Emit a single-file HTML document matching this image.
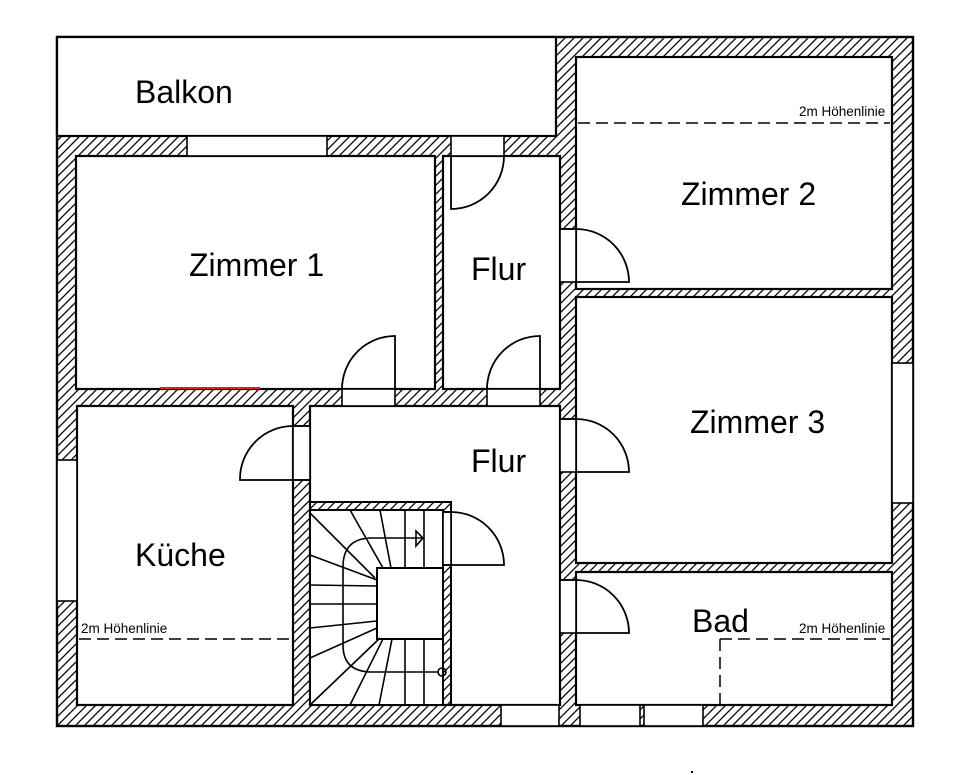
<!DOCTYPE html>
<html><head><meta charset="utf-8"><style>html,body{margin:0;padding:0;background:#fff}svg{display:block}</style></head>
<body>
<svg width="960" height="775" viewBox="0 0 960 775" xmlns="http://www.w3.org/2000/svg" font-family="Liberation Sans, Arial, sans-serif">
<defs>
<pattern id="h" patternUnits="userSpaceOnUse" width="9" height="9">
<path d="M-2,2 L2,-2 M0,9 L9,0 M7,11 L11,7" stroke="#000" stroke-width="1.3"/>
</pattern>
</defs>
<rect width="960" height="775" fill="#fff"/>
<rect x="57" y="37" width="856" height="689" fill="url(#h)" stroke="#000" stroke-width="2.4"/>
<g fill="#fff" stroke="#000" stroke-width="2.2">
<rect x="57" y="37" width="499" height="99"/>
<rect x="76" y="156" width="359" height="233"/>
<rect x="443" y="156" width="117" height="233"/>
<rect x="576" y="57" width="316" height="232"/>
<rect x="576" y="297" width="316" height="266"/>
<rect x="576" y="572" width="316" height="133"/>
<rect x="77" y="406" width="216" height="299"/>
<rect x="310" y="406" width="250" height="299"/>
</g>
<rect x="310" y="502" width="141" height="203" fill="url(#h)" stroke="#000" stroke-width="2"/>
<rect x="310" y="510" width="133" height="195" fill="#fff" stroke="#000" stroke-width="2"/>
<g fill="#fff" stroke="#000" stroke-width="1.6">
<rect x="187" y="136" width="140" height="20"/>
<rect x="451" y="136" width="53" height="20"/>
<rect x="342" y="389" width="53" height="17"/>
<rect x="487" y="389" width="53" height="17"/>
<rect x="560" y="229" width="16" height="53"/>
<rect x="560" y="419" width="16" height="53"/>
<rect x="560" y="580" width="16" height="53"/>
<rect x="293" y="426" width="17" height="54"/>
<rect x="443" y="512" width="8" height="53"/>
<rect x="57" y="460" width="20" height="141"/>
<rect x="892" y="363" width="21" height="140"/>
<rect x="501" y="705" width="58" height="21"/>
<rect x="580" y="705" width="60" height="21"/>
<rect x="644" y="705" width="59" height="21"/>
</g>
<g fill="none" stroke="#000" stroke-width="1.8">
<path d="M451,156 V209 A53,53 0 0 0 504,156"/>
<path d="M395,389 V336 A53,53 0 0 0 342,389"/>
<path d="M540,389 V336 A53,53 0 0 0 487,389"/>
<path d="M576,282 H629 A53,53 0 0 0 576,229 H560"/>
<path d="M576,472 H629 A53,53 0 0 0 576,419 H560"/>
<path d="M576,633 H629 A53,53 0 0 0 576,580 H560"/>
<path d="M310,480 H240 A53,53 0 0 1 293,426 H310"/>
<path d="M443,565 H504 A53,53 0 0 0 451,512 H443"/>
</g>
<rect x="377" y="568" width="66" height="71" fill="#fff" stroke="#000" stroke-width="2"/>
<g stroke="#000" stroke-width="1.6" fill="none">
<path d="M310,513 L375,578 M350,510 L383,568 M380,510 L391,568 M405,510 V568 M424,510 V568"/>
<path d="M310,555 L377,580 M310,585 L377,586 M310,604 L377,604 M310,628 L377,621 M310,658 L377,628 M310,705 L380,638"/>
<path d="M350,705 L383,639 M379,705 L392,639 M405,639 V705 M424,639 V705"/>
<path d="M423,538 H372 Q343,538 343,567 V645 Q343,672 372,672 H438"/>
<path d="M416,531 L423,538 L416,546 Z"/>
<circle cx="442" cy="672" r="4"/>
<path d="M443,639 V705"/>
</g>
<g stroke="#000" stroke-width="1.5" stroke-dasharray="12,6" fill="none">
<path d="M578,123 H890"/>
<path d="M79,639 H292"/>
<path d="M720,639 H890 M720,639 V705"/>
</g>
<path d="M160,388 H260" stroke="#e02020" stroke-width="2"/>
<g font-size="32" fill="#000">
<text x="135" y="103">Balkon</text>
<text x="189" y="276">Zimmer 1</text>
<text x="471" y="280">Flur</text>
<text x="681" y="205">Zimmer 2</text>
<text x="690" y="433">Zimmer 3</text>
<text x="471" y="472">Flur</text>
<text x="135" y="566">Küche</text>
<text x="692" y="632">Bad</text>
</g>
<g font-size="13.5" fill="#000">
<text x="799" y="116">2m Höhenlinie</text>
<text x="81" y="633">2m Höhenlinie</text>
<text x="799" y="633">2m Höhenlinie</text>
</g>
<rect x="691" y="771" width="2" height="2" fill="#000"/>
</svg>
</body></html>
